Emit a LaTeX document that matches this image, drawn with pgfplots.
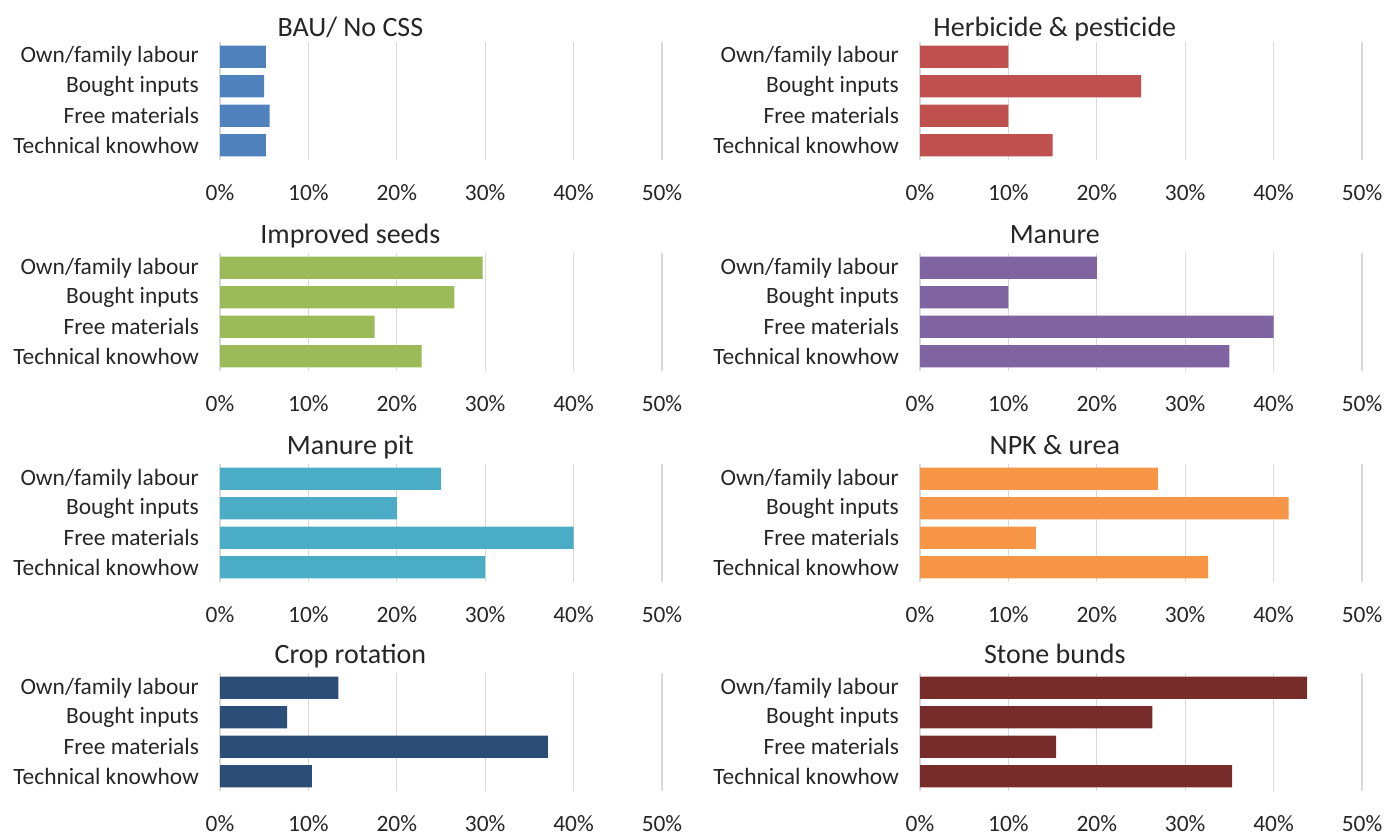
\documentclass[border=0pt]{standalone}
\usepackage{fontspec}
\setmainfont{Carlito}
\usepackage{pgfplots}
\pgfplotsset{compat=1.18}
\definecolor{c1}{HTML}{4F81BD}
\definecolor{c2}{HTML}{C0504D}
\definecolor{c3}{HTML}{9BBB59}
\definecolor{c4}{HTML}{8064A2}
\definecolor{c5}{HTML}{4BACC6}
\definecolor{c6}{HTML}{F79646}
\definecolor{c7}{HTML}{2C4D75}
\definecolor{c8}{HTML}{772C2A}
\definecolor{gridgray}{HTML}{D9D9D9}
\pgfplotsset{
  panel/.style={
    xbar, width=221pt, height=59pt, scale only axis,
    xmin=0, xmax=50, ymin=-0.5, ymax=3.5, y dir=reverse,
    bar width=0.75,
    xtick={0,10,...,50}, xticklabels={0\%,10\%,20\%,30\%,40\%,50\%},
    ytick={0,1,2,3},
    yticklabels={Own/family labour,Bought inputs,Free materials,Technical knowhow},
    xmajorgrids, grid style={draw=gridgray, line width=0.6pt},
    axis line style={draw=none}, major tick length=0,
    tick label style={font=\fontsize{11.7}{14}\selectfont, text=black!85},
    xticklabel style={anchor=center, yshift=-16.5pt},
    yticklabel style={anchor=east, xshift=-7pt},
    % default title yshift of 6pt is added to this one
    title style={font=\fontsize{14}{16}\selectfont, text=black!85, anchor=base,
      at={(axis description cs:0.295,1)}, yshift=-1pt},
  },
  right/.style={title style={at={(axis description cs:0.305,1)}}},
  toprow/.style={title style={yshift=-2pt}},
}
\begin{document}
\begin{tikzpicture}
\useasboundingbox (0,0) rectangle (695.5pt,418.5pt);

\begin{axis}[panel, toprow, at={(110pt,338.5pt)}, anchor=south west, title={BAU/ No CSS}]
\addplot[fill=c1, draw=none] coordinates {(5.2,0)(5.0,1)(5.6,2)(5.2,3)};
\end{axis}
\begin{axis}[panel, right, toprow, at={(460pt,338.5pt)}, anchor=south west, title={Herbicide \& pesticide}]
\addplot[fill=c2, draw=none] coordinates {(10,0)(25,1)(10,2)(15,3)};
\end{axis}

\begin{axis}[panel, at={(110pt,233pt)}, anchor=south west, title={Improved seeds}]
\addplot[fill=c3, draw=none] coordinates {(29.7,0)(26.5,1)(17.5,2)(22.8,3)};
\end{axis}
\begin{axis}[panel, right, at={(460pt,233pt)}, anchor=south west, title={Manure}]
\addplot[fill=c4, draw=none] coordinates {(20,0)(10,1)(40,2)(35,3)};
\end{axis}

\begin{axis}[panel, at={(110pt,127.5pt)}, anchor=south west, title={Manure pit}]
\addplot[fill=c5, draw=none] coordinates {(25,0)(20,1)(40,2)(30,3)};
\end{axis}
\begin{axis}[panel, right, at={(460pt,127.5pt)}, anchor=south west, title={NPK \& urea}]
\addplot[fill=c6, draw=none] coordinates {(26.9,0)(41.7,1)(13.1,2)(32.6,3)};
\end{axis}

\begin{axis}[panel, at={(110pt,23pt)}, anchor=south west, title={Crop rotation}]
\addplot[fill=c7, draw=none] coordinates {(13.4,0)(7.6,1)(37.1,2)(10.4,3)};
\end{axis}
\begin{axis}[panel, right, at={(460pt,23pt)}, anchor=south west, title={Stone bunds}]
\addplot[fill=c8, draw=none] coordinates {(43.8,0)(26.3,1)(15.4,2)(35.3,3)};
\end{axis}
\end{tikzpicture}
\end{document}
